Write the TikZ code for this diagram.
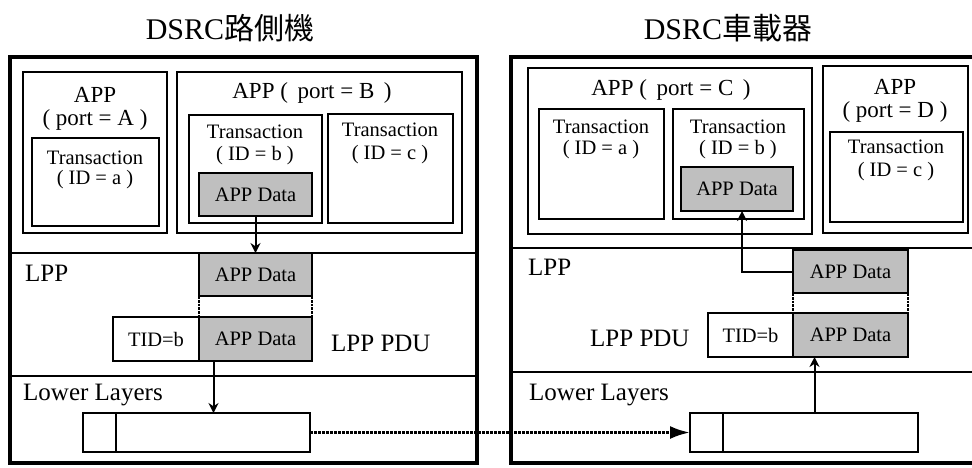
\documentclass[tikz,border=0pt]{standalone}
\usepackage{fontspec}
\setmainfont{Liberation Serif}
\newfontfamily\cjk{Noto Sans CJK TC}
\usetikzlibrary{arrows.meta}
% box from top-left corner to bottom-right corner
\def\blk[#1](#2)(#3,#4)(#5,#6){\node[#1, minimum width=#5-#3, minimum height=#6-#4, anchor=north west] (#2) at (#3,#4) {};}

\tikzset{
	box/.style={draw, line width=2.3pt, inner sep=0pt, outer sep=0pt},
	outer/.style={draw, line width=4.5pt, inner sep=0pt, outer sep=0pt},
	frame/.style={draw, line width=2pt, inner sep=0pt, outer sep=0pt},
	databox/.style={box, fill=black!25},
	big/.style={inner sep=0pt, font=\fontsize{23}{25}\selectfont},
	small/.style={inner sep=0pt, font=\fontsize{20.5}{22}\selectfont},
	layer/.style={inner sep=0pt, anchor=west, font=\fontsize{25}{27}\selectfont},
	title/.style={inner sep=0pt, font=\fontsize{30}{32}\selectfont},
	link/.style={line width=2pt, -{Stealth[length=10pt,width=10pt]}},
	glue/.style={line width=2.8pt, densely dotted},
}

\begin{document}
\begin{tikzpicture}[x=1pt,y=-1pt]
		\useasboundingbox (0,0) rectangle (972,467);
		
		%%%%% ROADSIDE UNIT %%%%%
		\node[title] (rsuT) at (230,28) {DSRC{\cjk 路側機}};
		\blk[outer](rsu)(10,57)(477,463)
		\draw[line width=2pt] (10,253) -- (477,253);
		\draw[line width=2pt] (10,376) -- (477,376);
		
		\blk[box](appA)(23,72)(167,233)
		\node[big] (appAt) at (95,95) {APP};
		\node[big] (appAp) at (95,120) {( port = A )};
		\blk[box](trA)(32,138)(159,226)
		\node[small] (trAt) at (95,158) {Transaction};
		\node[small] (trAi) at (95,180) {( ID = a )};
		
		\blk[box](appB)(177,72)(462,233)
		\node[big] (appBt) at (312,93) {APP (\, port = B\, )};
		\blk[box](trB)(189,115)(322,223)
		\node[small] (trBt) at (255,132) {Transaction};
		\node[small] (trBi) at (255,156) {( ID = b )};
		\blk[databox](dataB)(199,173)(312,216)
		\node[small] at (dataB) {APP Data};
		\blk[box](trC)(328,114)(453,223)
		\node[small] (trCt) at (390,130) {Transaction};
		\node[small] (trCi) at (390,155) {( ID = c )};
		
		\node[layer] (lppL) at (25,273) {LPP};
		\blk[databox](lppD)(199,253)(312,296)
		\node[small] at (lppD) {APP Data};
		\blk[box](lppT)(113,317)(199,361)
		\node[small] at (lppT) {TID=b};
		\blk[databox](lppP)(199,317)(312,361)
		\node[small] at (lppP) {APP Data};
		\node[layer] (pduL) at (331,343) {LPP PDU};
		\draw[glue] (lppD.south west) -- (lppP.north west);
		\draw[glue] (lppD.south east) -- (lppP.north east);
		
		\node[layer] (lowL) at (23,395) {Lower Layers};
		\blk[frame](frmL)(83,413)(310,452)
		\draw[line width=2pt] (116,413) -- (116,452);
		
		\draw[link] (dataB.south) -- (lppD.north);
		\coordinate (dnL) at ([xshift=-42]lppP.south);
		\draw[link] (dnL) -- (dnL |- frmL.north);
		
		%%%%% ON-BOARD UNIT %%%%%
		\node[title] (obuT) at (728,28) {DSRC{\cjk 車載器}};
		\blk[outer](obu)(511,57)(978,463)
		\draw[line width=2pt] (511,248) -- (972,248);
		\draw[line width=2pt] (511,372) -- (972,372);
		
		\blk[box](appC)(528,68)(812,234)
		\node[big] (appCt) at (671,90) {APP (\, port = C\, )};
		\blk[box](trA2)(539,109)(664,219)
		\node[small] (trA2t) at (601,127) {Transaction};
		\node[small] (trA2i) at (601,150) {( ID = a )};
		\blk[box](trB2)(673,109)(804,219)
		\node[small] (trB2t) at (738,127) {Transaction};
		\node[small] (trB2i) at (738,150) {( ID = b )};
		\blk[databox](dataC)(681,167)(793,211)
		\node[small] at (dataC) {APP Data};
		
		\blk[box](appD)(823,66)(968,233)
		\node[big] (appDt) at (895,87) {APP};
		\node[big] (appDp) at (895,112) {( port = D )};
		\blk[box](trC2)(830,132)(963,222)
		\node[small] (trC2t) at (896,147) {Transaction};
		\node[small] (trC2i) at (896,172) {( ID = c )};
		
		\node[layer] (lppL2) at (528,267) {LPP};
		\blk[databox](lppD2)(793,250)(908,293)
		\node[small] at (lppD2) {APP Data};
		\blk[box](lppT2)(708,313)(793,357)
		\node[small] at (lppT2) {TID=b};
		\blk[databox](lppP2)(793,313)(908,357)
		\node[small] at (lppP2) {APP Data};
		\node[layer] (pduL2) at (590,338) {LPP PDU};
		\draw[glue] (lppD2.south west) -- (lppP2.north west);
		\draw[glue] (lppD2.south east) -- (lppP2.north east);
		
		\node[layer] (lowL2) at (529,395) {Lower Layers};
		\blk[frame](frmR)(690,413)(918,452)
		\draw[line width=2pt] (723,413) -- (723,452);
		
		\coordinate (upC) at ([xshift=5]dataC.south);
		\draw[link] (lppD2.west) -| (upC);
		\coordinate (upR) at ([xshift=-36]lppP2.south);
		\draw[link] (upR |- frmR.north) -- (upR);
		
		%%%%% AIR LINK %%%%%
		\draw[line width=3pt, densely dotted, -{Latex[length=20pt,width=13pt]}] (frmL.east) -- (frmR.west);
	\end{tikzpicture}
\end{document}
